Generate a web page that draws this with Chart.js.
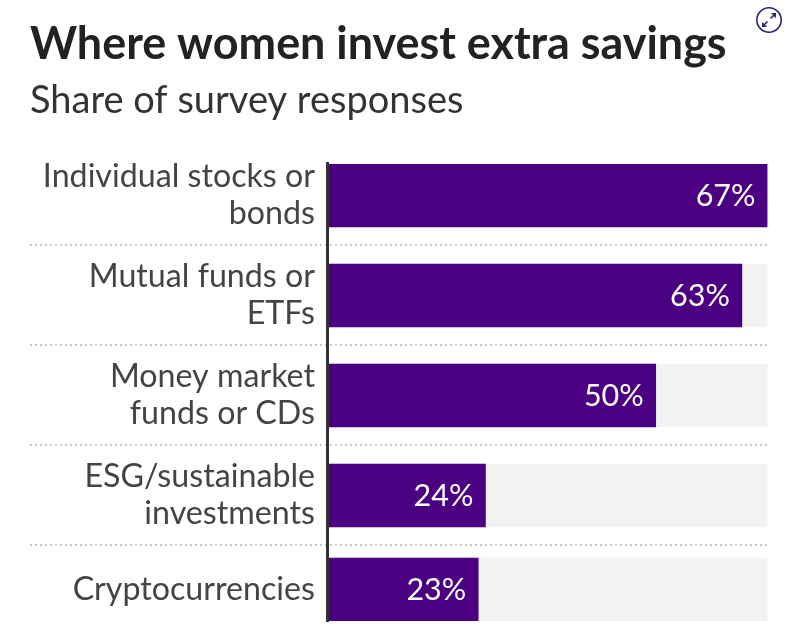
<!DOCTYPE html>
<html>
<head>
<meta charset="utf-8">
<title>Where women invest extra savings</title>
<script src="https://cdn.jsdelivr.net/npm/chart.js@4"></script>
<style>
    html, body { margin: 0; padding: 0; background: #fff; }
    #wrap { position: relative; width: 798px; height: 644px; overflow: hidden; }
    #chart { display: block; }
    #expand { position: absolute; left: 755px; top: 6px; }
</style>
</head>
<body>
<div id="wrap">
    <canvas id="chart" width="798" height="644"></canvas>
    <svg id="expand" width="28" height="28" viewBox="0 0 28 28" fill="none" stroke="#26267a" stroke-width="1.6">
        <circle cx="14" cy="14" r="12.2"/>
        <path d="M15.5 12.5 L20 8 M16.5 7.8 H20.2 V11.5 M12.5 15.5 L8 20 M7.8 16.5 V20.2 H11.5"/>
    </svg>
</div>
<script>
const categories = [
    ['Individual stocks or', 'bonds'],
    ['Mutual funds or', 'ETFs'],
    ['Money market', 'funds or CDs'],
    ['ESG/sustainable', 'investments'],
    'Cryptocurrencies'
];
const shares = [67, 63.1, 50, 24.1, 23];
const shareLabels = ['67%', '63%', '50%', '24%', '23%'];
const trackValues = [67, 67, 67, 67, 67];
// the last row is shorter because its label has only one line
const rows = [0, 1, 2, 3, 3.94];

const toPoints = values => values.map((v, i) => ({ x: v, y: rows[i] }));

// dotted lines between the rows, running under the labels too
const separators = {
    id: 'separators',
    beforeDatasetsDraw(chart) {
        const { ctx, chartArea, scales } = chart;
        ctx.save();
        ctx.strokeStyle = '#c8c8c8';
        ctx.lineWidth = 2;
        ctx.setLineDash([2, 3]);
        for (let i = 0; i < rows.length - 1; i++) {
            const y = Math.floor(scales.y.getPixelForValue(rows[i] + 0.5));
            ctx.beginPath();
            ctx.moveTo(30, y);
            ctx.lineTo(chartArea.right, y);
            ctx.stroke();
        }
        ctx.restore();
    }
};

// percentages inside the end of each bar
const barLabels = {
    id: 'barLabels',
    afterDatasetsDraw(chart) {
        const { ctx } = chart;
        const bars = chart.getDatasetMeta(1).data;
        ctx.save();
        ctx.fillStyle = '#fff';
        ctx.font = '30.5px Lato';
        ctx.textAlign = 'right';
        ctx.textBaseline = 'middle';
        bars.forEach((bar, i) => {
            ctx.fillText(shareLabels[i], bar.x - 12, bar.y + 1);
        });
        ctx.restore();
    }
};

new Chart(document.getElementById('chart'), {
    type: 'bar',
    data: {
        datasets: [
            {
                data: toPoints(trackValues),
                backgroundColor: '#f2f2f2',
                barThickness: 63,
                grouped: false,
                order: 2
            },
            {
                data: toPoints(shares),
                backgroundColor: '#4b0082',
                barThickness: 63,
                grouped: false,
                order: 1
            }
        ]
    },
    options: {
        indexAxis: 'y',
        responsive: false,
        animation: false,
        layout: { padding: { left: 30, right: 30.5, top: 18, bottom: 23 } },
        plugins: {
            legend: { display: false },
            tooltip: { enabled: false },
            title: {
                display: true,
                align: 'start',
                text: 'Where women invest extra savings',
                color: '#222',
                font: { family: 'Lato', size: 44.9, weight: 'bold', lineHeight: 1.2 },
                padding: { top: 0, bottom: 6 }
            },
            subtitle: {
                display: true,
                align: 'start',
                text: 'Share of survey responses',
                color: '#333',
                font: { family: 'Lato', size: 38, weight: 'normal', lineHeight: 1.2 },
                padding: { top: 0, bottom: 40.5 }
            }
        },
        scales: {
            x: {
                display: false,
                min: 0,
                max: 67
            },
            y: {
                type: 'linear',
                reverse: true,
                offset: false,
                bounds: 'data',
                min: -0.315,
                max: 4.255,
                afterBuildTicks(scale) {
                    scale.ticks = rows.map(r => ({ value: r }));
                },
                afterFit(scale) {
                    scale.width = 297;
                    // labels stay inside the plot height, no extra room needed
                    scale.paddingTop = 0;
                    scale.paddingBottom = 0;
                },
                border: { display: true, color: '#333', width: 3, z: 1 },
                grid: { display: false, drawTicks: false, offset: false },
                ticks: {
                    autoSkip: false,
                    padding: 12,
                    color: '#444',
                    font: { family: 'Lato', size: 32.2, lineHeight: 1.15 },
                    callback: (value, i) => categories[i]
                }
            }
        }
    },
    plugins: [separators, barLabels]
});
</script>
</body>
</html>
